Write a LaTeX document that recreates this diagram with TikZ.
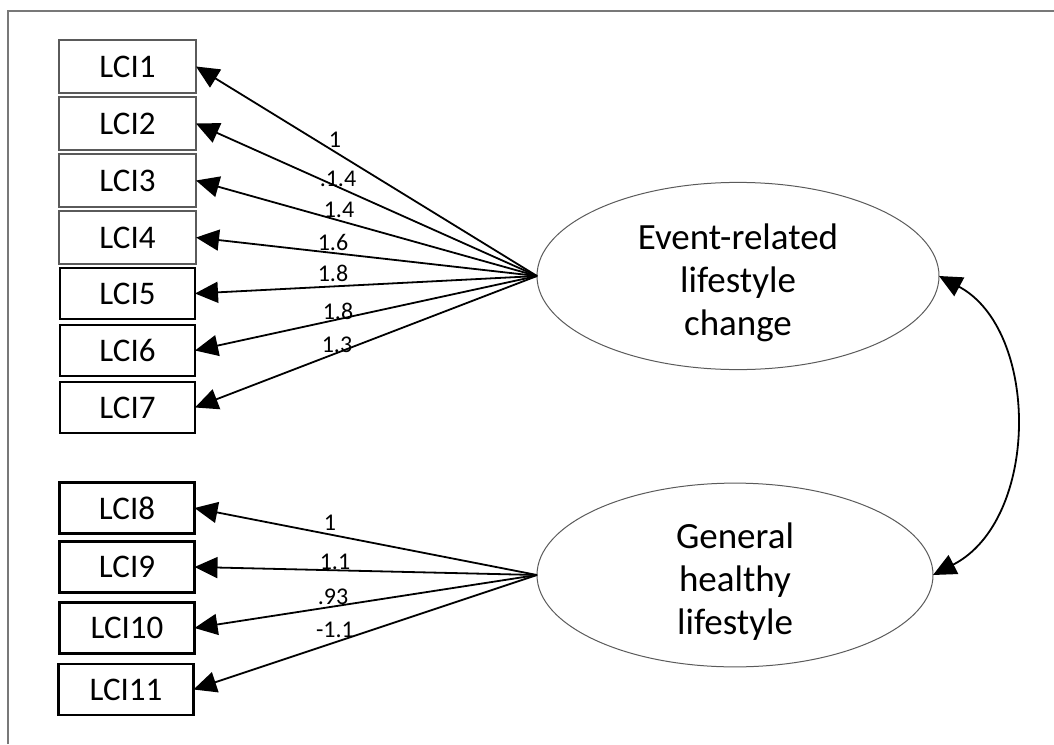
\documentclass[tikz,border=0pt]{standalone}
\usepackage{fontspec}
\setmainfont{Carlito}
\usetikzlibrary{arrows.meta,shapes.geometric}
\definecolor{framegray}{RGB}{120,120,120}
\definecolor{thingray}{RGB}{90,90,90}
\tikzset{
  thinbox/.style={draw=thingray, line width=1.1pt, minimum width=137pt, minimum height=53pt, inner sep=0pt, outer sep=0pt, font=\fontsize{33}{36}\selectfont},
  thickbox/.style={draw=black, line width=2.4pt, minimum width=135pt, minimum height=51pt, inner sep=0pt, outer sep=0pt, font=\fontsize{33}{36}\selectfont},
  latent/.style={draw=thingray, line width=1pt, ellipse, minimum width=402pt, minimum height=143pt, inner sep=0pt, outer sep=0pt, align=center, font=\fontsize{37}{43}\selectfont},
  path/.style={line width=1.8pt, -{Triangle[length=23pt,width=21pt]}},
  cov/.style={line width=1.8pt, {Triangle[length=23pt,width=21pt]}-{Triangle[length=23pt,width=21pt]}},
  coef/.style={inner sep=0pt, font=\fontsize{24}{26}\selectfont}
}
\begin{document}
\begin{tikzpicture}[x=1pt,y=-1pt]
\useasboundingbox (0,0) rectangle (1054,744);
% frame
\draw[framegray, line width=1.6pt] (8,744) -- (8,11) -- (1054,11);
% indicator boxes
\node[thinbox] (b1) at (127.5,66.5) {LCI1};
\node[thinbox] (b2) at (127.5,123.5) {LCI2};
\node[thinbox] (b3) at (127.5,180.5) {LCI3};
\node[thinbox] (b4) at (127.5,237.5) {LCI4};
\node[thickbox] (b5) at (127.5,293.5) {LCI5};
\node[thickbox] (b6) at (127.5,350.5) {LCI6};
\node[thickbox] (b7) at (127.5,407.5) {LCI7};
\node[thickbox] (b8) at (127,508) {LCI8};
\node[thickbox] (b9) at (127,567) {LCI9};
\node[thickbox] (b10) at (127,628) {LCI10};
\node[thickbox] (b11) at (126,689.5) {LCI11};
% latent variables
\node[latent] (e1) at (738,276) {\rule{0pt}{40pt}Event-related\\lifestyle\\change};
\node[latent, minimum width=396pt, minimum height=144pt] (e2) at (735,575) {\rule{0pt}{38pt}General\\healthy\\lifestyle};
% loadings
\foreach \i in {1,...,7} {\draw[path] (e1.west) -- (b\i.east);}
\foreach \i in {8,...,11} {\draw[path] (e2.west) -- (b\i.east);}
% covariance
\draw[cov] (e1.east) .. controls (1040,330) and (1040,520) .. (e2.east);
% coefficients
\node[coef] (l1) at (335,140) {1};
\node[coef] (l2) at (338,179) {.1.4};
\node[coef] (l3) at (339,210) {1.4};
\node[coef] (l4) at (333,242) {1.6};
\node[coef] (l5) at (333,273) {1.8};
\node[coef] (l6) at (338,311) {1.8};
\node[coef] (l7) at (337,345) {1.3};
\node[coef] (l8) at (330,523) {1};
\node[coef] (l9) at (335,562) {1.1};
\node[coef] (l10) at (333,597) {.93};
\node[coef] (l11) at (335,630) {-1.1};
\end{tikzpicture}
\end{document}
